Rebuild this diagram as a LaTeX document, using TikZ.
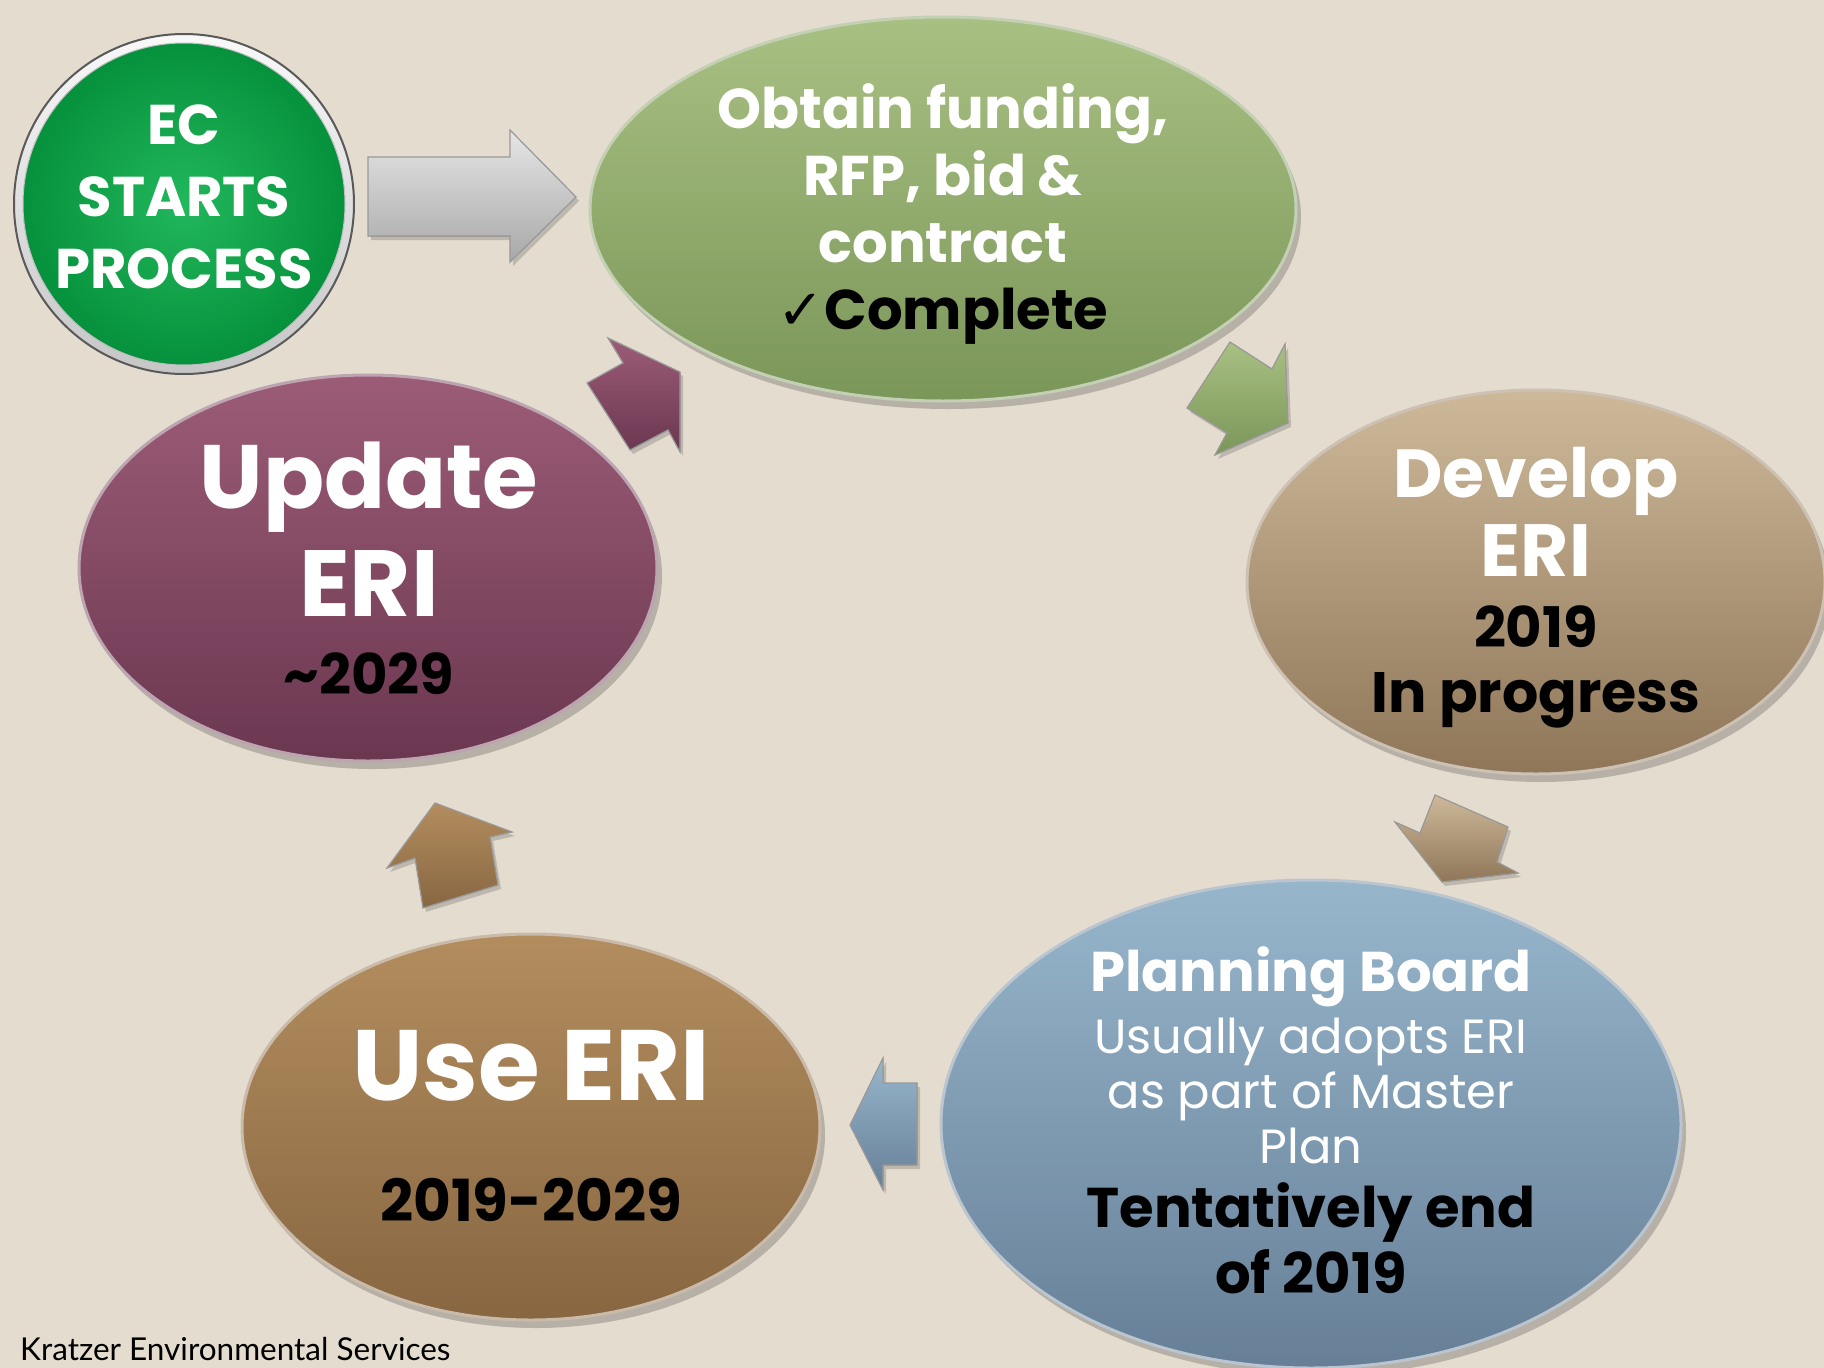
\documentclass[tikz,border=0pt]{standalone}
\usepackage{fontspec}
\setmainfont{Poppins}
\newfontfamily\regf{Poppins}
\newfontfamily\symf{DejaVu Sans}
\newfontfamily\kesf{Lato}
\usetikzlibrary{shapes.geometric,shadows}
\definecolor{bg}{HTML}{E4DCCF}
\definecolor{ecg}{HTML}{09B04A}
\definecolor{ecgd}{HTML}{06913C}
\definecolor{olT}{HTML}{A9C083}
\definecolor{olB}{HTML}{7A9658}
\definecolor{tnT}{HTML}{CDB99A}
\definecolor{tnB}{HTML}{8F7658}
\definecolor{blT}{HTML}{97B6CC}
\definecolor{blB}{HTML}{667F97}
\definecolor{brT}{HTML}{B38D5E}
\definecolor{brB}{HTML}{876641}
\definecolor{mrT}{HTML}{9C5C77}
\definecolor{mrB}{HTML}{6B3750}
\definecolor{grT}{HTML}{E6E6E6}
\definecolor{grB}{HTML}{A8A8A8}
\begin{document}
\begin{tikzpicture}[x=1pt,y=-1pt,
  blob/.style n args={2}{ellipse, inner sep=0pt, top color=#1, bottom color=#2,
     draw=white!55!#2, line width=3pt,
     drop shadow={shadow xshift=5pt, shadow yshift=-8pt, opacity=0.3, fill=black!70}},
  fnt/.style={font=\fontsize{#1}{#1}\selectfont\bfseries},
  wt/.style={anchor=base, text=white, fnt=#1, inner sep=0pt},
  bk/.style={anchor=base, text=black, fnt=#1, inner sep=0pt},
  wr/.style={anchor=base, text=white, font=\fontsize{#1}{#1}\selectfont\regf, inner sep=0pt},
  barrow/.style n args={2}{top color=#1, bottom color=#2, draw=black!40, line width=1.2pt, line join=miter,
     drop shadow={shadow xshift=3pt, shadow yshift=-4pt, opacity=0.25, fill=black!70}}
]
\fill[bg] (0,0) rectangle (1824,1368);
\useasboundingbox (0,0) rectangle (1824,1368);

% start circle
\node[circle, minimum size=340pt, inner sep=0pt, top color=white!95!gray, bottom color=gray!45, draw=gray!70!black, line width=2pt] (ring) at (184,204) {};
\node[circle, minimum size=322pt, inner sep=0pt, inner color=ecg!90!white, outer color=ecgd, draw=gray!50, line width=1pt] (ec) at (184,204) {};
\node[wt=56] (ec1) at (184,144) {EC};
\node[wt=56] (ec2) at (184,216) {STARTS};
\node[wt=56] (ec3) at (184,288) {PROCESS};

% ellipses
\node[blob={olT}{olB}, minimum width=706pt, minimum height=384pt] (obtain) at (943,209) {};
\node[blob={tnT}{tnB}, minimum width=578pt, minimum height=384pt] (develop) at (1536,582) {};
\node[blob={blT}{blB}, minimum width=740pt, minimum height=488pt] (plan) at (1311,1124) {};
\node[blob={brT}{brB}, minimum width=578pt, minimum height=386pt] (use) at (531,1127) {};
\node[blob={mrT}{mrB}, minimum width=578pt, minimum height=386pt] (update) at (368,568) {};

% texts
\node[wt=56] (ob1) at (943,128) {Obtain funding,};
\node[wt=56] (ob2) at (943,195) {RFP, bid \&};
\node[wt=56] (ob3) at (943,262) {contract};
\node[bk=56] (ob4) at (943,329) {{\symf\bfseries ✓}Complete};

\node[wt=68] (dv1) at (1536,497) {Develop};
\node[wt=74] (dv2) at (1536,576) {ERI};
\node[bk=56] (dv3) at (1536,647) {2019};
\node[bk=57] (dv4) at (1536,712) {In progress};

\node[wt=56] (pl1) at (1311,991) {Planning Board};
\node[wr=48] (pl2) at (1311,1053) {Usually adopts ERI};
\node[wr=48] (pl3) at (1311,1108) {as part of Master};
\node[wr=48] (pl4) at (1311,1163) {Plan};
\node[bk=56] (pl5) at (1311,1227) {Tentatively end};
\node[bk=56] (pl6) at (1311,1293) {of 2019};

\node[wt=100] (us1) at (531,1100) {Use ERI};
\node[bk=58] (us2) at (531,1221) {2019-2029};

\node[wt=90] (up1) at (369,508) {Update};
\node[wt=94] (up2) at (369,616) {ERI};
\node[bk=56] (up3) at (369,694) {\textasciitilde 2029};

\node[anchor=base west, inner sep=0pt, font=\fontsize{31.5}{31.5}\selectfont\kesf] (kes) at (20,1360) {Kratzer Environmental Services};

% block arrows
\filldraw[barrow={grT}{grB}] (368,157) -- (510,157) -- (510,130) -- (576,197) -- (510,262) -- (510,236) -- (368,236) -- cycle;
\filldraw[barrow={olT}{olB}] (1230,342) -- (1272,369) -- (1285,344) -- (1288,423) -- (1215,455) -- (1227,433) -- (1187,408) -- cycle;
\filldraw[barrow={tnT}{tnB}] (1435,795) -- (1508,827) -- (1497,862) -- (1518,873) -- (1442,882) -- (1395,822) -- (1420,833) -- cycle;
\filldraw[barrow={blT}{blB}] (883,1058) -- (883,1083) -- (917,1083) -- (917,1165) -- (883,1165) -- (883,1190) -- (850,1125) -- cycle;
\filldraw[barrow={brT}{brB}] (435,803) -- (512,832) -- (490,837) -- (498,885) -- (423,908) -- (415,858) -- (387,868) -- cycle;
\filldraw[barrow={mrT}{mrB}] (608,338) -- (680,372) -- (680,452) -- (668,430) -- (630,450) -- (587,383) -- (623,363) -- cycle;
\end{tikzpicture}
\end{document}
